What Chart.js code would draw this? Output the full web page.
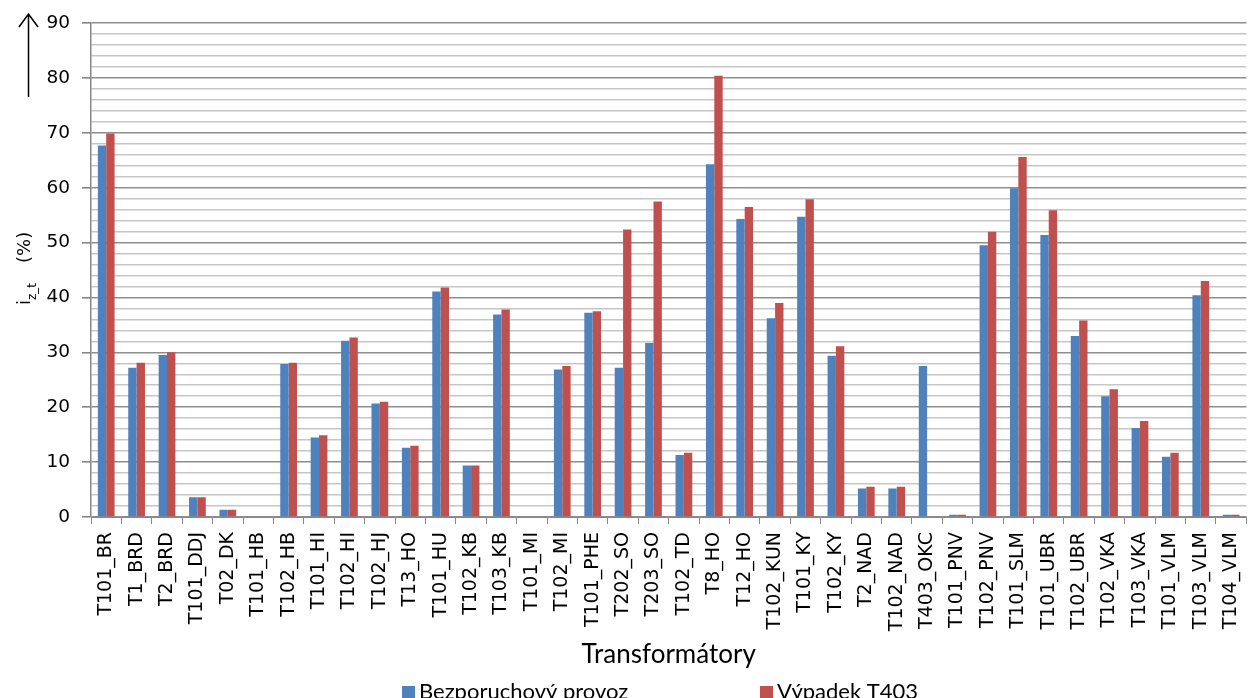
<!DOCTYPE html>
<html>
<head>
<meta charset="utf-8">
<script src="https://cdn.jsdelivr.net/npm/chart.js@4/dist/chart.umd.min.js"></script>
<style>
  html, body { margin: 0; padding: 0; background: #fff; overflow: hidden; }
  #wrap { position: relative; width: 1262px; height: 698px; }
</style>
</head>
<body>
<div id="wrap"><canvas id="c"></canvas></div>
<script>
// Transformer categories
const categories = [
  'T101_BR', 'T1_BRD', 'T2_BRD', 'T101_DDJ', 'T02_DK', 'T101_HB', 'T102_HB', 'T101_HI',
  'T102_HI', 'T102_HJ', 'T13_HO', 'T101_HU', 'T102_KB', 'T103_KB', 'T101_MI', 'T102_MI',
  'T101_PHE', 'T202_SO', 'T203_SO', 'T102_TD', 'T8_HO', 'T12_HO', 'T102_KUN', 'T101_KY',
  'T102_KY', 'T2_NAD', 'T102_NAD', 'T403_OKC', 'T101_PNV', 'T102_PNV', 'T101_SLM', 'T101_UBR',
  'T102_UBR', 'T102_VKA', 'T103_VKA', 'T101_VLM', 'T103_VLM', 'T104_VLM'
];

// Loading in normal operation (%)
const normalOperation = [
  67.7, 27.2, 29.5, 3.6, 1.3, 0, 27.9, 14.5,
  32.1, 20.7, 12.6, 41.1, 9.4, 36.9, 0, 26.9,
  37.2, 27.2, 31.7, 11.3, 64.3, 54.3, 36.2, 54.7,
  29.4, 5.2, 5.2, 27.5, 0.4, 49.5, 59.9, 51.4,
  33.0, 22.0, 16.2, 11.0, 40.4, 0.4
];

// Loading with T403 out of service (%)
const outageT403 = [
  69.9, 28.1, 30.0, 3.6, 1.3, 0, 28.1, 14.9,
  32.7, 21.0, 13.0, 41.8, 9.4, 37.8, 0, 27.5,
  37.5, 52.4, 57.5, 11.7, 80.4, 56.5, 39.0, 57.9,
  31.1, 5.5, 5.5, 0, 0.4, 52.0, 65.6, 55.9,
  35.8, 23.3, 17.5, 11.7, 43.0, 0.4
];

const seriesNames = ['Bezporuchový provoz', 'Výpadek T403'];
const seriesColors = ['#4F81BD', '#C0504D'];

const yMin = 0, yMax = 90, yStep = 2, yLabelStep = 10;
const xTitle = 'Transformátory';

const AXIS_GREY = '#868686';
const MINOR_GREY = '#c6c6c6';

// y-axis title "i_z_t (%)" with subscript, plus upward arrow
const yTitlePlugin = {
  id: 'yTitle',
  afterDraw(chart) {
    const ctx = chart.ctx;
    ctx.save();
    // arrow
    ctx.strokeStyle = '#000';
    ctx.lineWidth = 1.5;
    ctx.beginPath();
    ctx.moveTo(28.5, 97);
    ctx.lineTo(28.5, 14);
    ctx.moveTo(19, 27);
    ctx.lineTo(28.5, 14);
    ctx.lineTo(38, 27);
    ctx.stroke();

    // rotated title
    ctx.translate(30, 305);
    ctx.rotate(-Math.PI / 2);
    ctx.fillStyle = '#000';
    ctx.textBaseline = 'alphabetic';
    ctx.textAlign = 'left';
    ctx.font = '18px "DejaVu Sans"';
    let x = 0;
    ctx.fillText('i', x, 0);
    x += ctx.measureText('i').width;
    ctx.font = '12px "DejaVu Sans"';
    ctx.fillText('z_t', x, 6);
    x += ctx.measureText('z_t').width + 20;
    ctx.font = '18px "DejaVu Sans"';
    ctx.fillText('(%)', x, 0);
    ctx.restore();
  }
};

// legend drawn along the bottom edge
const bottomLegendPlugin = {
  id: 'bottomLegend',
  afterDraw(chart, args, opts) {
    const ctx = chart.ctx;
    ctx.save();
    ctx.font = opts.font;
    ctx.textBaseline = 'middle';
    ctx.textAlign = 'left';
    chart.data.datasets.forEach((ds, i) => {
      const bx = opts.positions[i];
      ctx.fillStyle = ds.backgroundColor;
      ctx.fillRect(bx, opts.y - 6, 13, 13);
      ctx.fillStyle = '#000';
      ctx.fillText(ds.label, bx + 17, opts.y);
    });
    ctx.restore();
  }
};

new Chart(document.getElementById('c'), {
  type: 'bar',
  data: {
    labels: categories,
    datasets: [
      { label: seriesNames[0], data: normalOperation, backgroundColor: seriesColors[0],
        categoryPercentage: 0.55, barPercentage: 1.0, borderWidth: 0 },
      { label: seriesNames[1], data: outageT403, backgroundColor: seriesColors[1],
        categoryPercentage: 0.55, barPercentage: 1.0, borderWidth: 0 }
    ]
  },
  options: {
    responsive: true,
    maintainAspectRatio: false,
    animation: false,
    layout: { padding: { top: 21, right: 2, bottom: 0, left: 0 } },
    plugins: {
      legend: { display: false },
      tooltip: { enabled: false },
      bottomLegend: { font: '22px Lato', y: 692, positions: [402, 760] }
    },
    scales: {
      x: {
        grid: {
          display: true,
          drawOnChartArea: false,
          drawTicks: true,
          tickLength: 7,
          color: AXIS_GREY,
          offset: true
        },
        border: { display: true, color: AXIS_GREY, width: 1 },
        ticks: {
          autoSkip: false,
          maxRotation: 90,
          minRotation: 90,
          padding: 8,
          color: '#000',
          font: { family: 'DejaVu Sans', size: 19 }
        },
        title: {
          display: true,
          text: xTitle,
          color: '#000',
          font: { family: 'Lato', size: 26, lineHeight: 1.2 },
          padding: { top: 0, bottom: 28 }
        },
        afterFit(scale) { scale.height = 181; }
      },
      y: {
        min: yMin,
        max: yMax,
        grid: {
          drawTicks: true,
          tickLength: 9,
          lineWidth: 1.6,
          color: (c) => (c.tick && c.tick.value % yLabelStep === 0) ? '#8e8e8e' : MINOR_GREY,
          tickColor: (c) => (c.tick && c.tick.value % yLabelStep === 0) ? AXIS_GREY : 'rgba(0,0,0,0)'
        },
        border: { display: true, color: AXIS_GREY, width: 1.5 },
        ticks: {
          stepSize: yStep,
          autoSkip: false,
          padding: 12,
          color: '#000',
          font: { family: 'DejaVu Sans', size: 18.5 },
          callback: (v) => (v % yLabelStep === 0 ? v : '')
        },
        afterFit(scale) { scale.width = 91; }
      }
    }
  },
  plugins: [yTitlePlugin, bottomLegendPlugin]
});
</script>
</body>
</html>
